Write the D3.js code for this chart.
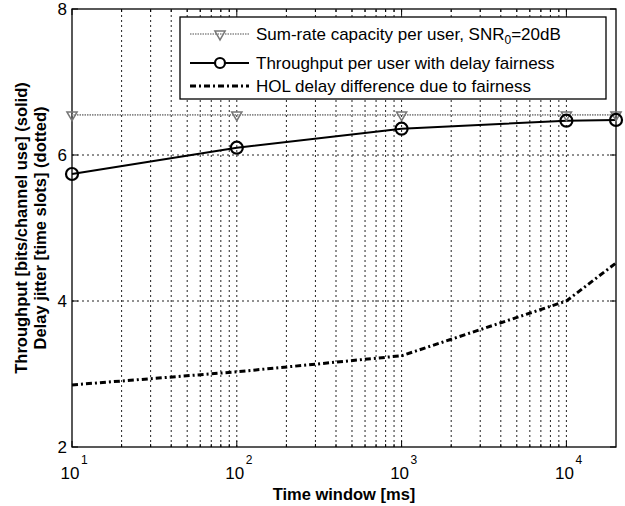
<!DOCTYPE html>
<html>
<head>
<meta charset="utf-8">
<script src="https://cdn.jsdelivr.net/npm/d3@7"></script>
<style>
  body { margin: 0; background: #fff; }
  text { font-family: "Liberation Sans", Arial, sans-serif; }
</style>
</head>
<body>
<div id="chart"></div>
<script>
// Data
const windows = [10, 100, 1000, 10000, 20000];
const sumRate = [6.55, 6.55, 6.55, 6.55, 6.55];
const throughput = [5.74, 6.10, 6.36, 6.47, 6.48];
const holDelay = [2.85, 3.03, 3.25, 4.00, 4.52];
const yTicks = [2, 4, 6, 8];
const xMajor = [10, 100, 1000, 10000];
const legendLabels = [
  "Sum-rate capacity per user, SNR",
  "Throughput per user with delay fairness",
  "HOL delay difference due to fairness"
];

const width = 625, height = 506;
const margin = {top: 9, right: 9, bottom: 59, left: 72};

const svg = d3.select("#chart").append("svg")
    .attr("width", width)
    .attr("height", height);

const x = d3.scaleLog().domain([10, 20000]).range([margin.left, width - margin.right]);
const y = d3.scaleLinear().domain([2, 8]).range([height - margin.bottom, margin.top]);

const x0 = x.range()[0], x1 = x.range()[1];
const y0 = y.range()[0], y1 = y.range()[1];

// minor ticks for the log axis
const xMinor = [];
for (let d = 10; d < 20000; d *= 10) {
  for (let k = 2; k <= 9; k++) if (d * k < 20000) xMinor.push(d * k);
}

// grid
const grid = svg.append("g")
    .attr("stroke", "#222")
    .attr("stroke-width", 1)
    .attr("stroke-dasharray", "2,3");
grid.selectAll(".gx")
  .data(xMajor.slice(1).concat(xMinor))
  .join("line")
    .attr("x1", d => x(d)).attr("x2", d => x(d))
    .attr("y1", y0).attr("y2", y1);
grid.selectAll(".gy")
  .data(yTicks.slice(1, -1))
  .join("line")
    .attr("x1", x0).attr("x2", x1)
    .attr("y1", d => y(d)).attr("y2", d => y(d));

// inner ticks, MATLAB style
const ticks = svg.append("g").attr("stroke", "#000").attr("stroke-width", 1);
xMajor.forEach(d => {
  ticks.append("line").attr("x1", x(d)).attr("x2", x(d)).attr("y1", y0).attr("y2", y0 - 6);
  ticks.append("line").attr("x1", x(d)).attr("x2", x(d)).attr("y1", y1).attr("y2", y1 + 6);
});
xMinor.forEach(d => {
  ticks.append("line").attr("x1", x(d)).attr("x2", x(d)).attr("y1", y0).attr("y2", y0 - 3);
  ticks.append("line").attr("x1", x(d)).attr("x2", x(d)).attr("y1", y1).attr("y2", y1 + 3);
});
yTicks.forEach(d => {
  ticks.append("line").attr("x1", x0).attr("x2", x0 + 6).attr("y1", y(d)).attr("y2", y(d));
  ticks.append("line").attr("x1", x1).attr("x2", x1 - 6).attr("y1", y(d)).attr("y2", y(d));
});

// frame
svg.append("rect")
    .attr("x", x0).attr("y", y1)
    .attr("width", x1 - x0).attr("height", y0 - y1)
    .attr("fill", "none").attr("stroke", "#000").attr("stroke-width", 1.3);

// tick labels
svg.append("g").selectAll("text")
  .data(yTicks)
  .join("text")
    .attr("x", x0 - 5)
    .attr("y", d => y(d) + 6)
    .attr("text-anchor", "end")
    .attr("font-size", 17)
    .text(d => d);

const xl = svg.append("g").selectAll("g")
  .data(xMajor)
  .join("g")
    .attr("transform", d => `translate(${x(d)},${y0 + 32})`);
xl.append("text")
    .attr("text-anchor", "middle")
    .attr("x", -2)
    .attr("font-size", 17)
    .text("10");
xl.append("text")
    .attr("x", 9)
    .attr("y", -15)
    .attr("font-size", 12)
    .text(d => Math.log10(d));

// axis titles
svg.append("text")
    .attr("x", 344)
    .attr("y", 500)
    .attr("text-anchor", "middle")
    .attr("font-size", 16.5)
    .attr("font-weight", "bold")
    .text("Time window [ms]");

const yl = svg.append("text")
    .attr("transform", `translate(0,${(y0 + y1) / 2}) rotate(-90)`)
    .attr("text-anchor", "middle")
    .attr("font-size", 16.5)
    .attr("font-weight", "bold");
yl.append("tspan").attr("x", 0).attr("y", 27).text("Throughput [bits/channel use] (solid)");
yl.append("tspan").attr("x", 0).attr("y", 46).text("Delay jitter [time slots] (dotted)");

// series
const line = d3.line().x(d => x(d[0])).y(d => y(d[1]));
const sumData = d3.zip(windows, sumRate);
const thrData = d3.zip(windows, throughput);
const holData = d3.zip(windows, holDelay);

svg.append("path")
    .attr("d", line(sumData))
    .attr("fill", "none").attr("stroke", "#8a8a8a").attr("stroke-width", 1.6)
    .attr("stroke-dasharray", "1.5,1");
svg.append("path")
    .attr("d", line(holData))
    .attr("fill", "none").attr("stroke", "#000").attr("stroke-width", 3)
    .attr("stroke-dasharray", "6,3,2,3");
svg.append("path")
    .attr("d", line(thrData))
    .attr("fill", "none").attr("stroke", "#000").attr("stroke-width", 2);

const tri = d3.symbol().type(d3.symbolTriangle).size(45);
svg.append("g").selectAll("path")
  .data(sumData)
  .join("path")
    .attr("d", tri)
    .attr("transform", d => `translate(${x(d[0])},${y(d[1])}) rotate(180)`)
    .attr("fill", "none").attr("stroke", "#777").attr("stroke-width", 1.5);

svg.append("g").selectAll("circle")
  .data(thrData)
  .join("circle")
    .attr("cx", d => x(d[0])).attr("cy", d => y(d[1]))
    .attr("r", 6)
    .attr("fill", "none").attr("stroke", "#000").attr("stroke-width", 2.2);

// legend
const lg = svg.append("g");
lg.append("rect")
    .attr("x", 180).attr("y", 17).attr("width", 426).attr("height", 82)
    .attr("fill", "#fff").attr("stroke", "#000").attr("stroke-width", 1.3);
const rows = [34, 63, 86];
lg.append("line").attr("x1", 190).attr("x2", 249).attr("y1", rows[0]).attr("y2", rows[0])
    .attr("stroke", "#8a8a8a").attr("stroke-width", 1.6).attr("stroke-dasharray", "1.5,1");
lg.append("path").attr("d", tri).attr("transform", `translate(220,${rows[0]}) rotate(180)`)
    .attr("fill", "none").attr("stroke", "#777").attr("stroke-width", 1.5);
lg.append("line").attr("x1", 190).attr("x2", 249).attr("y1", rows[1]).attr("y2", rows[1])
    .attr("stroke", "#000").attr("stroke-width", 2);
lg.append("circle").attr("cx", 220).attr("cy", rows[1]).attr("r", 5)
    .attr("fill", "#fff").attr("stroke", "#000").attr("stroke-width", 2.2);
lg.append("line").attr("x1", 190).attr("x2", 249).attr("y1", rows[2]).attr("y2", rows[2])
    .attr("stroke", "#000").attr("stroke-width", 3).attr("stroke-dasharray", "6,3,2,3");

lg.selectAll(".lt")
  .data(legendLabels)
  .join("text")
    .attr("x", 256)
    .attr("y", (d, i) => rows[i] + 6)
    .attr("font-size", 17)
    .text(d => d);
const first = lg.select("text");
first.append("tspan").attr("dy", 4).attr("font-size", 12).text("0");
first.append("tspan").attr("dy", -4).text("=20dB");
</script>
</body>
</html>
